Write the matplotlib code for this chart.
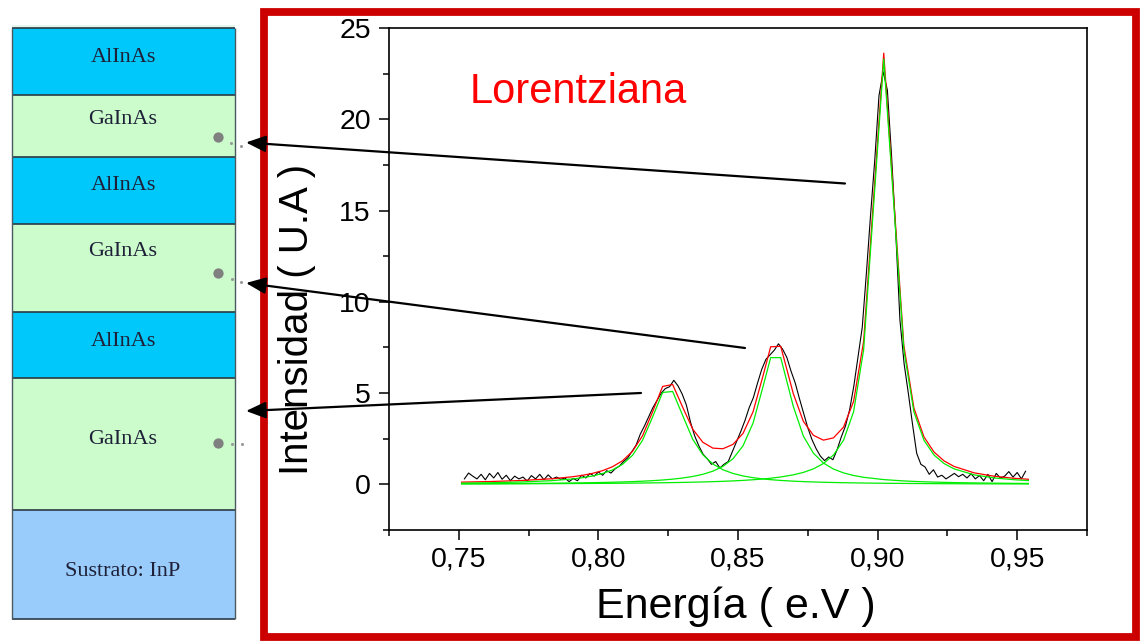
import numpy as np
import matplotlib.pyplot as plt
from matplotlib.patches import Rectangle
from matplotlib.ticker import MultipleLocator

plt.rcParams['font.family'] = ['Liberation Sans', 'DejaVu Sans']

# espectro medido (paso de 0.0015 eV desde 0.752 eV)
intensidad = [
    0.30, 0.62, 0.45, 0.30, 0.55, 0.25, 0.60, 0.35, 0.65, 0.28,
    0.50, 0.20, 0.45, 0.30, 0.40, 0.18, 0.48, 0.30, 0.55, 0.25,
    0.52, 0.30, 0.40, 0.28, 0.35, 0.15, 0.32, 0.20, 0.50, 0.35,
    0.60, 0.45, 0.68, 0.50, 0.75, 0.62, 0.85, 1.00, 1.25, 1.45,
    1.80, 2.15, 2.75, 3.20, 3.70, 4.20, 4.60, 5.00, 5.25, 5.35,
    5.70, 5.40, 4.95, 4.35, 3.40, 2.65, 2.10, 1.65, 1.40, 1.10,
    1.25, 0.90, 1.10, 1.25, 1.80, 2.35, 2.90, 3.50, 4.20, 4.75,
    5.55, 6.30, 6.85, 7.10, 7.35, 7.70, 7.40, 6.95, 6.20, 5.55,
    4.70, 3.90, 3.10, 2.45, 1.95, 1.55, 1.30, 1.50, 1.35, 1.90,
    2.60, 3.20, 4.10, 5.40, 7.00, 8.60, 11.6, 14.8, 17.8, 21.3,
    22.6, 21.6, 18.0, 13.8, 9.00, 6.60, 5.00, 3.30, 1.70, 1.10,
    0.95, 0.55, 0.80, 0.40, 0.50, 0.30, 0.45, 0.60, 0.42, 0.55,
    0.35, 0.58, 0.30, 0.48, 0.20, 0.55, 0.15, 0.60, 0.35, 0.45,
    0.70, 0.40, 0.65, 0.30, 0.72,
]
energia = np.linspace(0.752, 0.953, len(intensidad))

# nodos donde se evaluo el ajuste de tres lorentzianas
e_ajuste = [
    0.7510, 0.7618, 0.7726, 0.7834, 0.7906, 0.7942, 0.7978, 0.8014, 0.8050, 0.8086,
    0.8122, 0.8158, 0.8194, 0.8230, 0.8266, 0.8302, 0.8338, 0.8374, 0.8410, 0.8446,
    0.8482, 0.8518, 0.8554, 0.8590, 0.8617, 0.8653, 0.8698, 0.8734, 0.8770, 0.8806,
    0.8842, 0.8878, 0.8914, 0.8950, 0.9022, 0.9094, 0.9130, 0.9166, 0.9202, 0.9238,
    0.9274, 0.9346, 0.9418, 0.9490, 0.9540,
]
ajuste_total = [
    0.122, 0.158, 0.213, 0.307, 0.414, 0.493, 0.599, 0.747, 0.962, 1.289,
    1.808, 2.658, 3.969, 5.365, 5.471, 4.223, 3.019, 2.307, 1.985, 1.951,
    2.190, 2.792, 3.977, 5.970, 7.536, 7.562, 4.972, 3.455, 2.689, 2.422,
    2.548, 3.136, 4.544, 7.834, 23.622, 7.612, 4.185, 2.601, 1.771, 1.287,
    0.981, 0.630, 0.444, 0.331, 0.278,
]
lor_1 = [
    0.066, 0.090, 0.131, 0.204, 0.294, 0.362, 0.455, 0.589, 0.787, 1.093,
    1.588, 2.409, 3.685, 5.036, 5.087, 3.767, 2.467, 1.624, 1.114, 0.800,
    0.598, 0.461, 0.366, 0.297, 0.257, 0.215, 0.175, 0.151, 0.131, 0.115,
    0.102, 0.091, 0.081, 0.073, 0.061, 0.051, 0.047, 0.043, 0.040, 0.037,
    0.035, 0.030, 0.027, 0.024, 0.022,
]
lor_2 = [
    0.032, 0.039, 0.049, 0.063, 0.076, 0.084, 0.093, 0.104, 0.117, 0.132,
    0.151, 0.174, 0.203, 0.239, 0.286, 0.349, 0.433, 0.551, 0.723, 0.984,
    1.403, 2.112, 3.359, 5.378, 6.943, 6.943, 4.276, 2.648, 1.709, 1.167,
    0.839, 0.628, 0.487, 0.387, 0.261, 0.188, 0.162, 0.141, 0.124, 0.110,
    0.098, 0.079, 0.066, 0.055, 0.049,
]
lor_3 = [
    0.024, 0.028, 0.033, 0.040, 0.045, 0.048, 0.051, 0.055, 0.059, 0.064,
    0.069, 0.075, 0.081, 0.089, 0.097, 0.107, 0.119, 0.132, 0.148, 0.167,
    0.190, 0.218, 0.253, 0.296, 0.336, 0.404, 0.521, 0.655, 0.849, 1.140,
    1.607, 2.417, 3.976, 7.373, 23.300, 7.373, 3.976, 2.417, 1.607, 1.140,
    0.849, 0.521, 0.351, 0.253, 0.207,
]

x_ticks = [0.75, 0.80, 0.85, 0.90, 0.95]
x_ticklabels = ['0,75', '0,80', '0,85', '0,90', '0,95']
y_ticks = [0, 5, 10, 15, 20, 25]

# capas de la muestra, de arriba hacia abajo
capas = ['AlInAs', 'GaInAs', 'AlInAs', 'GaInAs', 'AlInAs', 'GaInAs', 'Sustrato: InP']
colores_capa = ['#00c8fa', '#ccfccc', '#00c8fa', '#ccfccc', '#00c8fa', '#ccfccc', '#99ccfa']
bordes_capa = [28, 95, 157, 224, 312, 378, 510, 619]
texto_capa_y = [58, 120, 186, 251, 342, 440, 572]

fig = plt.figure(figsize=(11.4, 6.41), dpi=100)

# grafico de fotoluminiscencia
ax = fig.add_axes([389 / 1140, 111 / 641, 698 / 1140, 502 / 641])
ax.plot(energia, intensidad, color='black', lw=0.8, zorder=2)
ax.plot(e_ajuste, ajuste_total, color='#ff0000', lw=0.9, zorder=3)
for comp in (lor_1, lor_2, lor_3):
    ax.plot(e_ajuste, comp, color='#00ee00', lw=0.9, zorder=4)

ax.set_xlim(0.725, 0.975)
ax.set_ylim(-2.5, 25)
ax.set_xticks(x_ticks)
ax.set_xticklabels(x_ticklabels)
ax.set_yticks(y_ticks)
ax.xaxis.set_minor_locator(MultipleLocator(0.025))
ax.yaxis.set_minor_locator(MultipleLocator(2.5))
ax.tick_params(which='major', direction='out', length=7.5, width=1.1, labelsize=20.5)
ax.tick_params(which='minor', direction='out', length=4, width=1.1)
ax.tick_params(axis='y', pad=5.5)
ax.tick_params(axis='x', pad=4.5)
for sp in ax.spines.values():
    sp.set_linewidth(1.2)

ax.text(0.754, 20.9, 'Lorentziana', color='#ff0000', fontsize=30, ha='left', va='baseline')
fig.text(297 / 1140, 1 - 319 / 641, 'Intensidad ( U.A )', rotation=90,
         fontsize=29, ha='center', va='center')
fig.text(736 / 1140, 1 - 607 / 641, 'Energía ( e.V )', fontsize=31, ha='center', va='center')

# esquema de capas, marco rojo y flechas en coordenadas de pixel
over = fig.add_axes([0, 0, 1, 1], zorder=5)
over.set_xlim(0, 1140)
over.set_ylim(641, 0)
over.axis('off')

over.add_patch(Rectangle((12, 25), 223, 3, facecolor='#e6f6ee', edgecolor='none'))
for i, nombre in enumerate(capas):
    top, bot = bordes_capa[i], bordes_capa[i + 1]
    over.add_patch(Rectangle((12, top), 223, bot - top, facecolor=colores_capa[i],
                             edgecolor='none'))
    over.text(123, texto_capa_y[i], nombre, family=['Liberation Serif', 'DejaVu Serif'],
              fontsize=16, color='#1e2038', ha='center', va='center')
over.hlines(bordes_capa, 12, 235, color='#2b3a44', lw=1.2)
over.vlines([12, 235], bordes_capa[0], bordes_capa[-1], color='#4a5a60', lw=1.0)

over.scatter([218, 218, 218], [137, 273, 443], s=55, color='#808080', lw=0, zorder=6)
over.scatter([231, 241, 232, 241, 232, 242], [143, 146, 279, 282, 444, 444],
             s=5, color='#9a9a9a', lw=0, zorder=6)

over.add_patch(Rectangle((264, 11.5), 872, 625.5, fill=False, edgecolor='#cc0000', lw=5.6,
                         zorder=7))

flecha = dict(arrowstyle='-|>,head_length=1.0,head_width=0.42', color='black', lw=1.6,
              mutation_scale=12, shrinkA=0, shrinkB=0)
for tip, cola in [((246, 142.5), (845, 183.5)),
                  ((246, 283), (745, 348)),
                  ((246, 411), (641, 393))]:
    over.annotate('', xy=tip, xytext=cola, arrowprops=flecha, zorder=8)

fig.savefig('out.png', dpi=100)
